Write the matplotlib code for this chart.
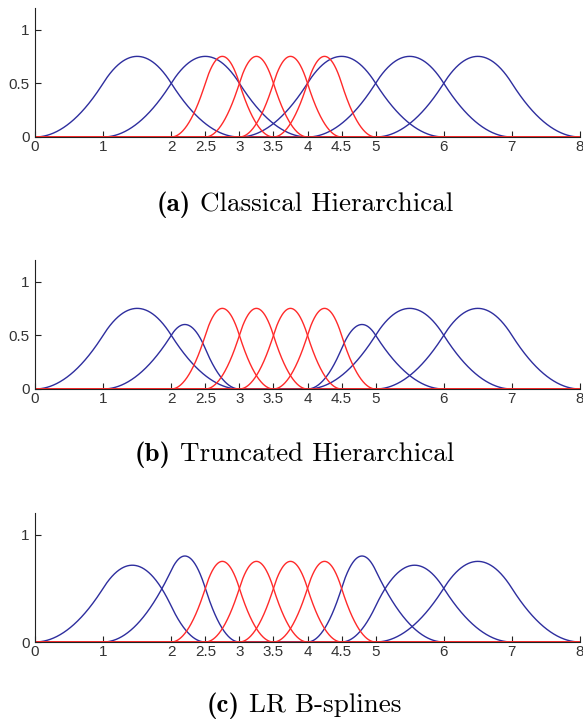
import numpy as np
import matplotlib
matplotlib.use("Agg")
import matplotlib.pyplot as plt

plt.rcParams['font.family'] = ['Liberation Sans', 'DejaVu Sans']

# ---- data: quadratic B-spline local knot vectors ----
x_ticks = [0, 1, 2, 2.5, 3, 3.5, 4, 4.5, 5, 6, 7, 8]

# (a) classical hierarchical
coarse_a = [[0, 1, 2, 3], [1, 2, 3, 4], [3, 4, 5, 6], [4, 5, 6, 7], [5, 6, 7, 8]]
fine = [[2, 2.5, 3, 3.5], [2.5, 3, 3.5, 4], [3, 3.5, 4, 4.5], [3.5, 4, 4.5, 5]]

# (b) truncated hierarchical: coarse functions as combinations of fine B-splines
trunc_b = [
    [([0, 1, 2, 3], 1.0)],
    [([1, 1.5, 2, 2.5], 0.25), ([1.5, 2, 2.5, 3], 0.75)],
    [([4, 4.5, 5, 5.5], 0.75), ([4.5, 5, 5.5, 6], 0.25)],
    [([4, 5, 6, 7], 1.0)],
    [([5, 6, 7, 8], 1.0)],
]

# (c) LR B-splines
coarse_c = [[0, 1, 2, 2.5], [1, 2, 2.5, 3], [4, 4.5, 5, 6], [4.5, 5, 6, 7], [5, 6, 7, 8]]

cap_labels = ["(a)", "(b)", "(c)"]
cap_titles = ["Classical Hierarchical", "Truncated Hierarchical", "LR B-splines"]
y_ticks = [[0, 0.5, 1], [0, 0.5, 1], [0, 1]]
y_ticklabels = [["0", "0.5", "1"], ["0", "0.5", "1"], ["0", "1"]]


def bspline(knots, x):
    """Cox-de Boor for a single B-spline with local knot vector."""
    k = np.asarray(knots, float)
    p = len(k) - 2
    N = [((x >= k[i]) & (x < k[i + 1])).astype(float) for i in range(p + 1)]
    for d in range(1, p + 1):
        newN = []
        for i in range(p + 1 - d):
            a = (x - k[i]) / (k[i + d] - k[i]) * N[i] if k[i + d] > k[i] else 0
            b = (k[i + d + 1] - x) / (k[i + d + 1] - k[i + 1]) * N[i + 1] if k[i + d + 1] > k[i + 1] else 0
            newN.append(a + b)
        N = newN
    return N[0]


BLUE = '#2e2e9e'
RED = '#ff2a2a'
x = np.linspace(0, 8, 1601)

fig = plt.figure(figsize=(5.83, 7.19), dpi=100)
bottoms = [582 / 719, 330 / 719, 77 / 719]
cap_y = [(719 - 211) / 719, (719 - 461) / 719, (719 - 712) / 719]
cap_left = [157 / 583, 135 / 583, 207 / 583]
left, width, height = 35 / 583, 545 / 583, 129 / 719

cap_texts = []
for idx in range(3):
    ax = fig.add_axes([left, bottoms[idx], width, height])
    if idx == 0:
        blues = [bspline(k, x) for k in coarse_a]
    elif idx == 1:
        blues = [sum(c * bspline(k, x) for k, c in comb) for comb in trunc_b]
    else:
        blues = [bspline(k, x) for k in coarse_c]
    for y in blues:
        ax.plot(x, y, color=BLUE, lw=1.0)
    for k in fine:
        ax.plot(x, bspline(k, x), color=RED, lw=1.0)
    ax.set_xlim(0, 8)
    ax.set_ylim(0, 1.2)
    ax.set_xticks(x_ticks)
    ax.set_xticklabels([f"{t:g}" for t in x_ticks])
    ax.set_yticks(y_ticks[idx])
    ax.set_yticklabels(y_ticklabels[idx])
    for s in ['top', 'right']:
        ax.spines[s].set_visible(False)
    for s in ['left', 'bottom']:
        ax.spines[s].set_color('#222222')
        ax.spines[s].set_linewidth(0.8)
    ax.tick_params(direction='in', length=4, width=0.8, labelsize=11,
                   labelcolor='#333333', color='#222222')
    ax.tick_params(axis='x', pad=2)
    ax.tick_params(axis='y', pad=4)
    ax.set_facecolor('none')
    t1 = fig.text(cap_left[idx], cap_y[idx], cap_labels[idx], family='cmb10',
                  fontsize=19.5, ha='left', va='baseline')
    t2 = fig.text(0, cap_y[idx], cap_titles[idx], family='cmr10', fontsize=19.5,
                  ha='left', va='baseline')
    cap_texts.append((t1, t2))

fig.canvas.draw()
r = fig.canvas.get_renderer()
W = fig.bbox.width
gap = 9
for t1, t2 in cap_texts:
    bb = t1.get_window_extent(r)
    t2.set_x((bb.x1 + gap) / W)

fig.savefig('out.png', dpi=100)
